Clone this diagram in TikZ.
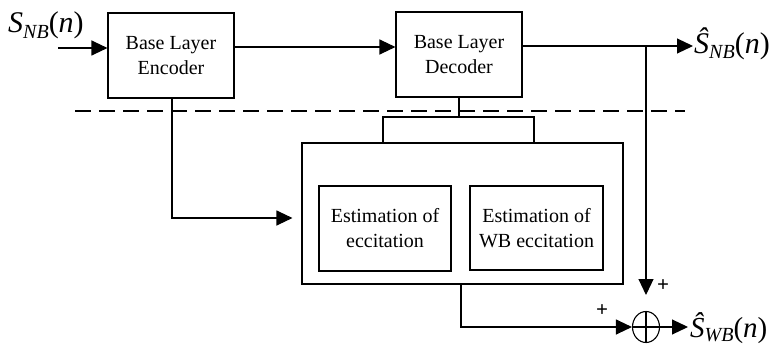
\documentclass[tikz,border=0pt]{standalone}
\usepackage{fontspec}
\setmainfont{Liberation Serif}
\usetikzlibrary{arrows.meta,calc,shapes.geometric}
\begin{document}
\begin{tikzpicture}[x=1pt,y=-1pt,
  ln/.style={line width=1.1pt},
  blk/.style={draw, ln, rectangle, inner sep=0pt, align=center,
    font=\fontsize{20}{25}\selectfont},
  arr/.style={-{Triangle[length=16pt,width=15pt]}},
  pl/.style={font=\fontsize{21}{21}\selectfont\bfseries, inner sep=0pt}]
\useasboundingbox (0,0) rectangle (776,345);
% blocks
\node[blk, minimum width=126pt, minimum height=85pt] (enc) at (171,55.5) {Base Layer\\Encoder};
\node[blk, minimum width=126pt, minimum height=85pt] (dec) at (459,54.5) {Base Layer\\Decoder};
\node[blk, minimum width=321pt, minimum height=141pt] (big) at (462.5,213.5) {};
\node[blk, minimum width=132pt, minimum height=85pt] (est1) at (385,228.5) {Estimation of\\eccitation};
\node[blk, minimum width=133pt, minimum height=84pt] (est2) at (536.5,228) {Estimation of\\WB eccitation};
\node[draw, ln, ellipse, minimum width=27pt, minimum height=31pt, inner sep=0pt] (add) at (646,327) {};
\draw[ln] (add.north) -- (add.south) (add.west) -- (add.east);
% labels
\node[anchor=base west, inner sep=0pt, font=\fontsize{30}{30}\selectfont] (sin) at (8,33)
  {\textit{S}\raisebox{-0.2em}{\fontsize{20}{20}\selectfont\textit{NB}}(\textit{n})};
\node[anchor=base west, inner sep=0pt, font=\fontsize{30}{30}\selectfont] (snb) at (694,53)
  {\textit{Ŝ}\raisebox{-0.2em}{\fontsize{20}{20}\selectfont\textit{NB}}(\textit{n})};
\node[anchor=base west, inner sep=0pt, font=\fontsize{29}{29}\selectfont] (swb) at (690,337)
  {\textit{Ŝ}\raisebox{-0.15em}{\fontsize{20}{20}\selectfont\textit{WB}}(\textit{n})};
% coordinates
\coordinate (inA) at (58,48);
\coordinate (br) at (646,46);
\coordinate (vt) at (646,295);
\coordinate (bl) at (383,117);
\coordinate (brr) at (534,117);
\coordinate (encd) at (172,218);
\coordinate (bigd) at (461,327);
\coordinate (dl) at (75,111);
\coordinate (dr) at (685,111);
% connectors
\draw[ln,arr] (inA) -- (inA -| enc.west);
\draw[ln,arr] (enc.east |- 0,47) -- (dec.west |- 0,47);
\draw[ln,arr] (dec.east |- 0,46) -- ([xshift=-1pt]snb.west |- 0,46);
\draw[ln,arr] (br) -- (vt);
\node[pl] (p1) at (663,286) {+};
\draw[ln] (dec.south) -- (dec.south |- bl);
\draw[ln] (bl |- big.north) -- (bl) -- (brr) -- (brr |- big.north);
\draw[ln,arr] (enc.south -| encd) -- (encd) -- ([xshift=-9pt]big.west |- encd);
\draw[ln,arr] (big.south -| bigd) -- (bigd) -- (add.west);
\node[pl] (p2) at (602,311) {+};
\draw[ln,arr] (add.east) -- ([xshift=-2pt]swb.west |- add.east);
\draw[ln,dash pattern=on 16pt off 8pt] (dl) -- (dr);
\end{tikzpicture}
\end{document}
